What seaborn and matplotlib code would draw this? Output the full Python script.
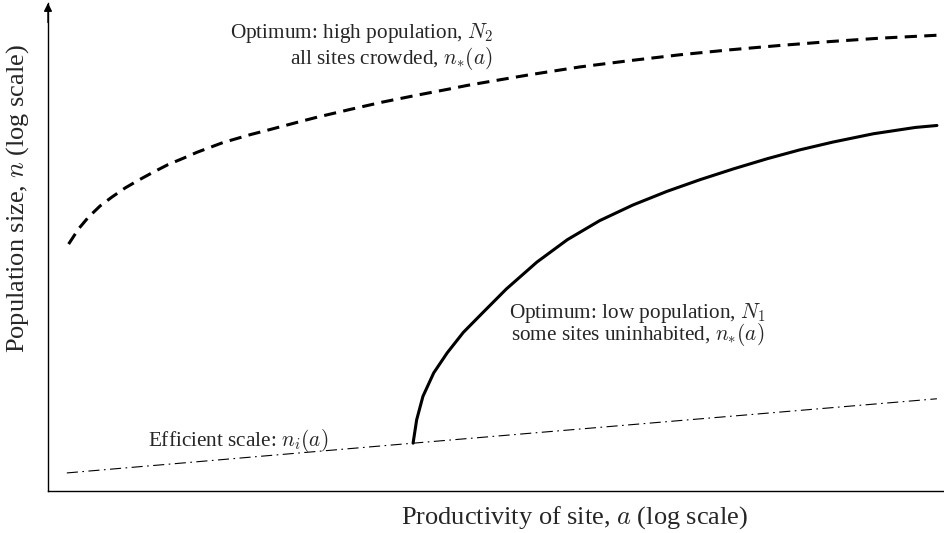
"""
Optimal population vs site productivity (schematic, log scales)
"""

import matplotlib
matplotlib.use("Agg")
import matplotlib.pyplot as plt
import seaborn as sns

sns.set_theme(style="white")
plt.rcParams["font.family"] = ["Liberation Serif", "DejaVu Serif"]
plt.rcParams["mathtext.fontset"] = "cm"

# high population optimum N2 (dashed)
n2_x = [0.23, 0.34, 0.45, 0.58, 0.71, 0.86, 1.01, 1.17, 1.34, 1.51, 1.66,
        1.95, 2.25, 2.44, 2.81, 3.00, 3.37, 3.73, 4.11, 4.48, 4.67, 4.89,
        5.37, 5.93, 6.49, 7.05, 7.60, 8.16, 8.72, 9.28, 9.92]
n2_y = [5.06, 5.37, 5.61, 5.84, 6.02, 6.21, 6.37, 6.53, 6.69, 6.82, 6.94,
        7.14, 7.30, 7.39, 7.57, 7.66, 7.82, 7.97, 8.11, 8.24, 8.31, 8.38,
        8.53, 8.69, 8.82, 8.94, 9.04, 9.13, 9.21, 9.28, 9.34]

# low population optimum N1 (solid)
n1_x = [4.07, 4.11, 4.18, 4.30, 4.45, 4.63, 4.85, 5.11, 5.45,
        5.79, 6.15, 6.52, 6.90, 7.27, 7.64, 8.02, 8.38, 8.75, 9.20,
        9.67, 9.91]
n1_y = [0.98, 1.46, 1.94, 2.42, 2.83, 3.25, 3.66, 4.14, 4.69,
        5.15, 5.54, 5.86, 6.14, 6.38, 6.60, 6.81, 6.99, 7.15, 7.32,
        7.45, 7.49]

# efficient scale n_i(a) (dash-dot)
ni_x = [0.21, 4.07, 9.91]
ni_y = [0.37, 0.98, 1.89]

fig = plt.figure(figsize=(9.45, 5.33), dpi=100)
ax = fig.add_axes([48 / 945, 42 / 533, 897 / 945, 488 / 533])

sns.lineplot(x=n2_x, y=n2_y, ax=ax, color="black", lw=2.2, sort=False)
ax.lines[-1].set_dashes((4, 2.4))
sns.lineplot(x=n1_x, y=n1_y, ax=ax, color="black", lw=2.2, sort=False)
sns.lineplot(x=ni_x, y=ni_y, ax=ax, color="black", lw=0.8, sort=False)
ax.lines[-1].set_dashes((10, 4, 1.5, 4))
for ln in ax.lines:
    ln.set_solid_joinstyle("round")
    ln.set_dash_joinstyle("round")

ax.set_xlim(0, 10)
ax.set_ylim(0, 10)
ax.set_xticks([])
ax.set_yticks([])
for side in ["top", "right"]:
    ax.spines[side].set_visible(False)
for side in ["left", "bottom"]:
    ax.spines[side].set_color("black")
    ax.spines[side].set_linewidth(1.0)

ax.annotate("", xy=(0, 1.0), xytext=(0, 0.96), xycoords="axes fraction",
            arrowprops=dict(arrowstyle="-|>", color="black", lw=1.0,
                            mutation_scale=12, shrinkA=0, shrinkB=0))

fs = 15.3
ax.text(4.96, 9.10, "Optimum: high population, $N_2$\nall sites crowded, $n_{*}(a)$",
        ha="right", va="center", multialignment="right", fontsize=fs,
        linespacing=1.0)
ax.text(6.57, 3.42, "Optimum: low population, $N_1$\nsome sites uninhabited, $n_{*}(a)$",
        ha="center", va="center", multialignment="center", fontsize=fs,
        linespacing=0.8)
ax.text(2.12, 1.03, "Efficient scale: $n_i(a)$", ha="center", va="center",
        fontsize=fs)

ax.set_xlabel("Productivity of site, $a$ (log scale)", fontsize=19)
ax.set_ylabel("Population size, $n$ (log scale)", fontsize=19)
ax.xaxis.set_label_coords(0.5875, -0.0535)
ax.yaxis.set_label_coords(-0.034, 0.60)
ax.xaxis.label.set_va("center")
ax.yaxis.label.set_va("center")

fig.savefig("out.png", dpi=100)
plt.close(fig)
